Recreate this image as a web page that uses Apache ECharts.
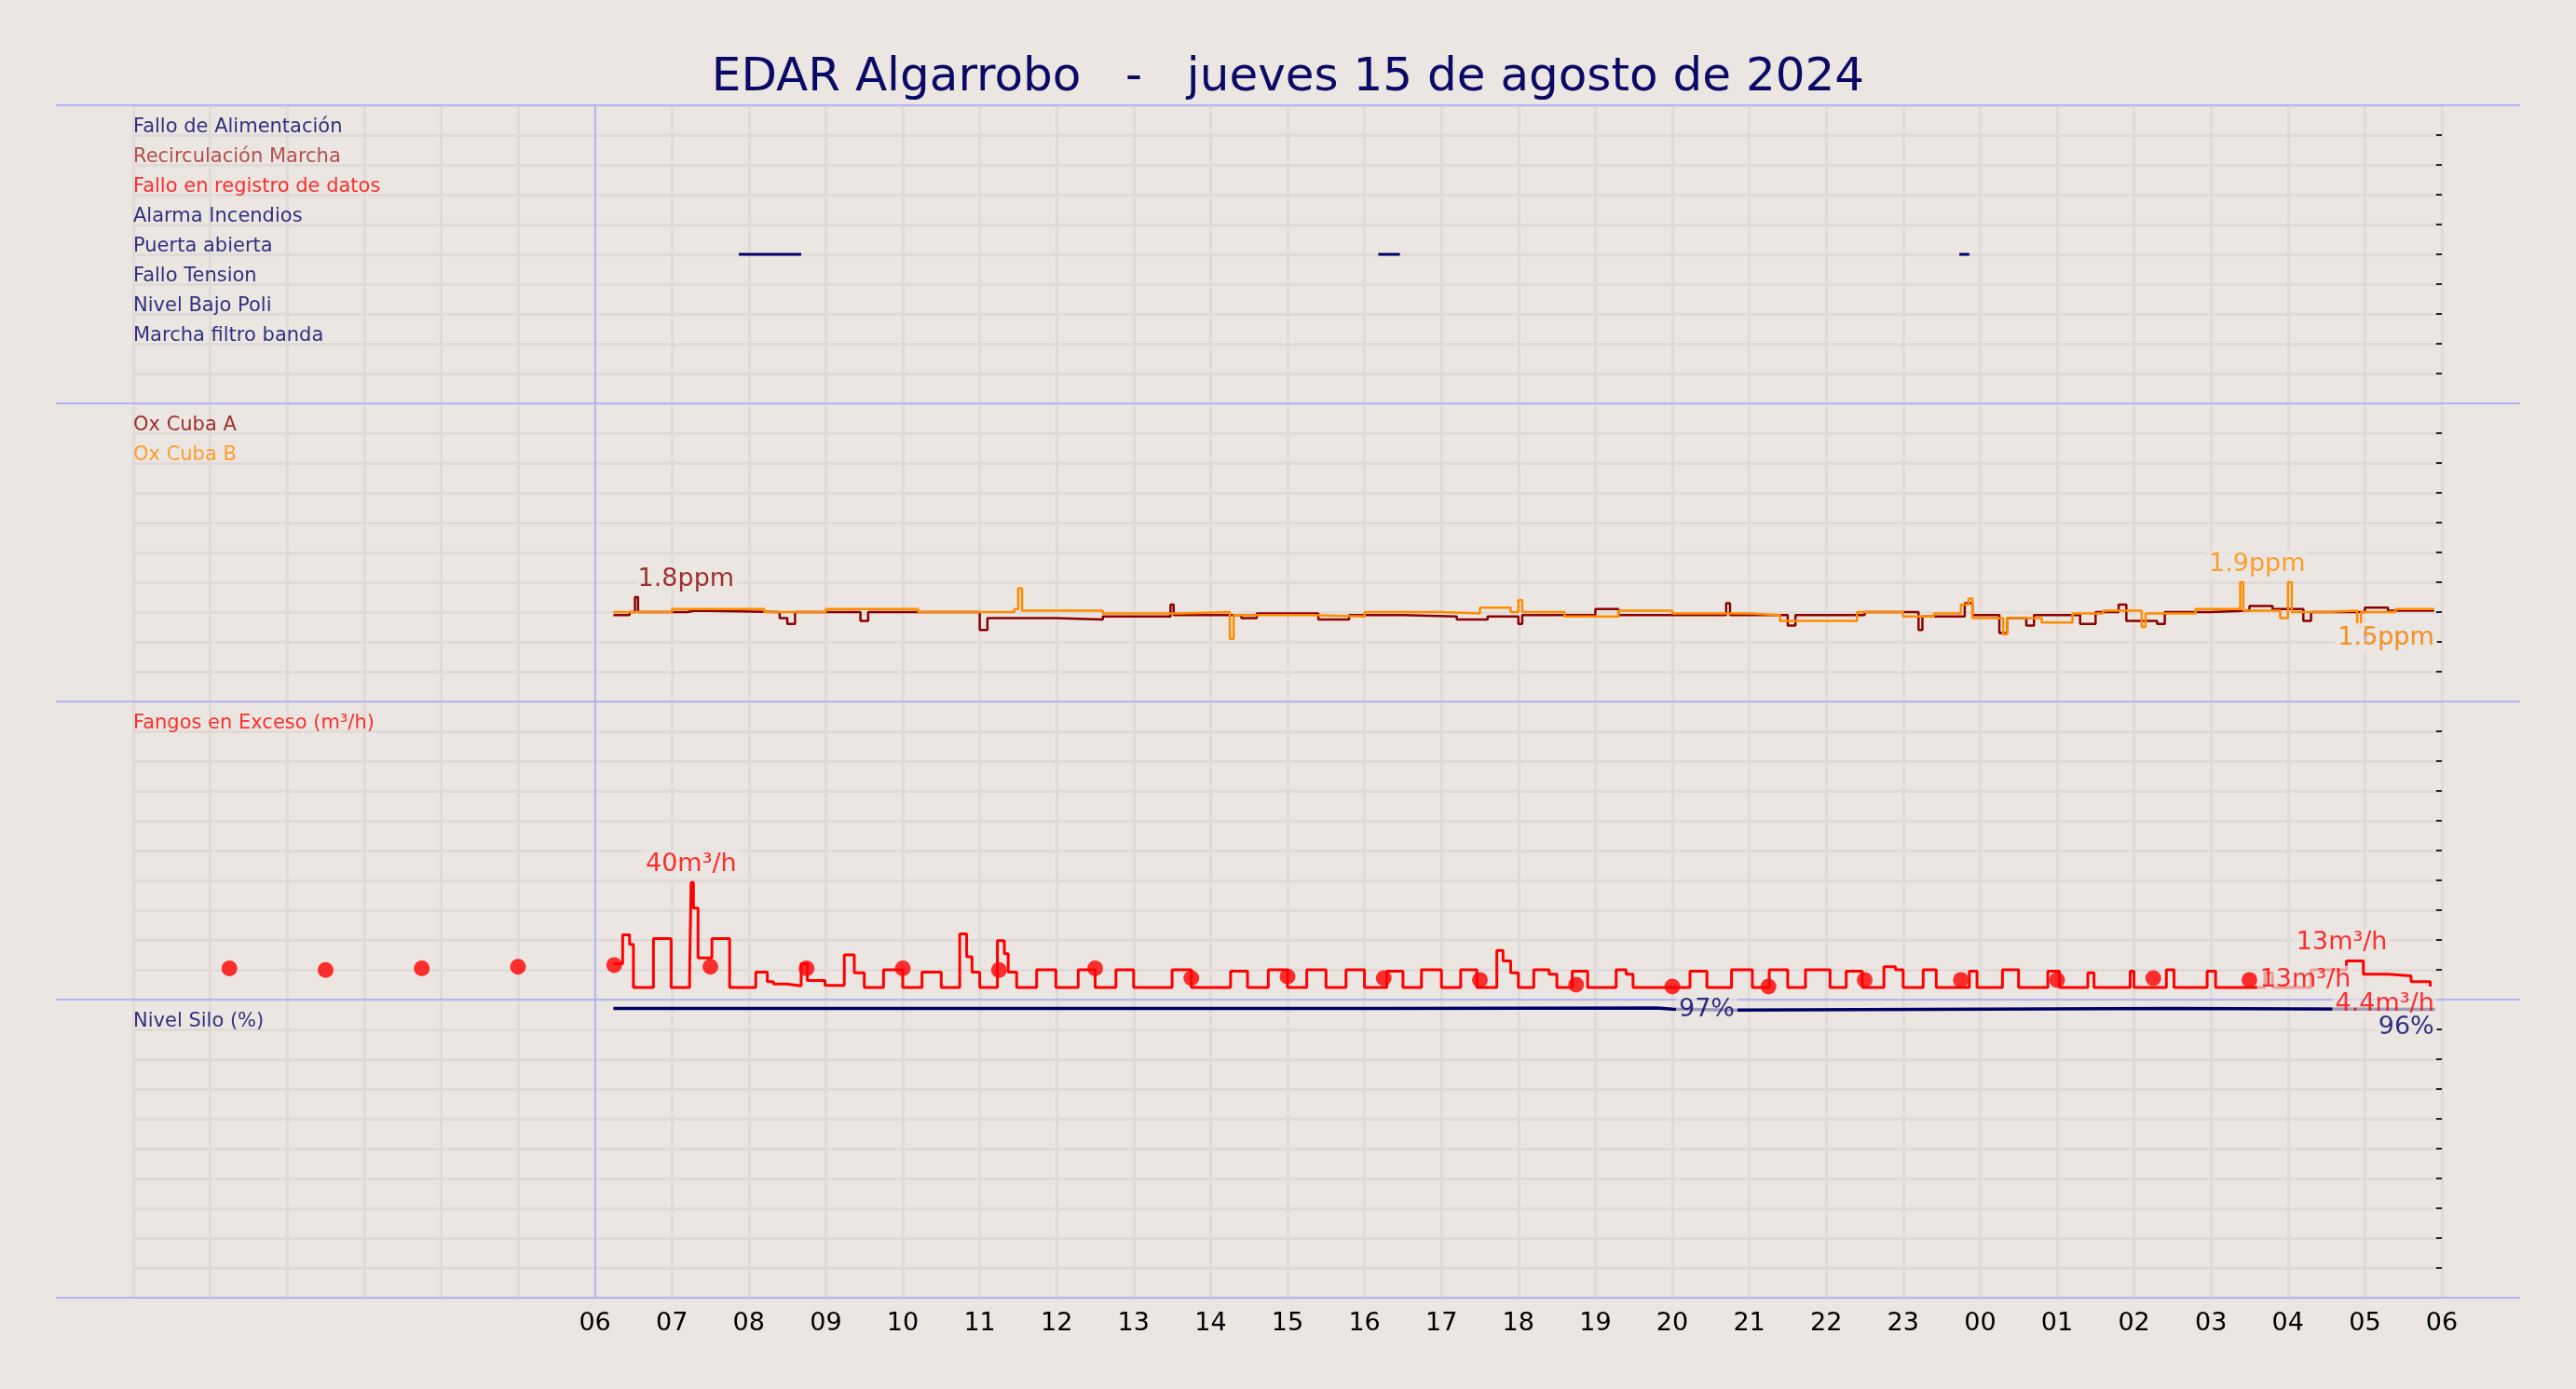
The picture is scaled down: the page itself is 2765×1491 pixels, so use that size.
<!DOCTYPE html>
<html><head><meta charset="utf-8">
<script src="https://cdn.jsdelivr.net/npm/echarts@6/dist/echarts.min.js"></script>
<style>html,body{margin:0;padding:0;background:#ebe6e1}#c{width:2765px;height:1491px}</style>
</head><body><div id="c"></div>
<script>
const titleText = 'EDAR Algarrobo   -   jueves 15 de agosto de 2024';
const alarmNames = ['Fallo de Alimentación','Recirculación Marcha','Fallo en registro de datos','Alarma Incendios','Puerta abierta','Fallo Tension','Nivel Bajo Poli','Marcha filtro banda'];
const alarmRows = [9,8,7,6,5,4,3,2];
const alarmColors = ['#000066','#a52a2a','#ff0000','#000066','#000066','#000066','#000066','#000066'];
const puertaAbierta = [[7.87,5],[8.68,5],[8.7,null],[16.18,5],[16.46,5],[16.5,null],[23.73,5],[23.86,5]];

const oxA = [[6.24,1.68],[6.45,1.70],[6.52,1.80],[6.56,1.70],[7.2,1.71],[7.3,1.70],[8.4,1.66],[8.5,1.62],[8.6,1.70],[9.45,1.64],[9.55,1.70],[10.95,1.70],[11.0,1.58],[11.1,1.66],[12.0,1.65],[12.6,1.67],[13.48,1.75],[13.52,1.68],[14.4,1.66],[14.6,1.69],[15.4,1.65],[15.8,1.68],[16.5,1.67],[17.2,1.65],[17.6,1.67],[18.0,1.62],[18.05,1.68],[19.0,1.72],[19.3,1.68],[20.7,1.76],[20.75,1.68],[21.5,1.61],[21.6,1.68],[22.5,1.70],[23.2,1.58],[23.25,1.67],[23.8,1.76],[23.9,1.68],[24.25,1.56],[24.35,1.66],[24.6,1.61],[24.7,1.68],[25.3,1.62],[25.5,1.70],[25.8,1.75],[25.9,1.64],[26.3,1.62],[26.4,1.70],[27.0,1.71],[27.5,1.74],[27.8,1.72],[28.2,1.64],[28.3,1.70],[29.0,1.73],[29.3,1.71],[29.9,1.71]];
const oxB = [[6.24,1.70],[7.0,1.72],[8.2,1.70],[9.0,1.72],[10.2,1.70],[11.45,1.72],[11.5,1.86],[11.55,1.71],[12.6,1.69],[13.6,1.70],[14.25,1.52],[14.3,1.68],[15.3,1.67],[16.0,1.70],[17.0,1.69],[17.5,1.73],[17.9,1.70],[18.0,1.78],[18.05,1.70],[18.6,1.67],[19.3,1.71],[20.0,1.69],[21.0,1.68],[21.4,1.64],[22.4,1.70],[23.0,1.67],[23.4,1.69],[23.75,1.75],[23.85,1.79],[23.9,1.66],[24.3,1.55],[24.35,1.66],[24.8,1.63],[25.2,1.69],[25.6,1.71],[26.1,1.60],[26.15,1.69],[26.8,1.72],[27.38,1.90],[27.42,1.71],[27.9,1.66],[28.0,1.90],[28.05,1.70],[28.5,1.71],[28.9,1.60],[28.95,1.70],[29.4,1.72],[29.9,1.72]];

const fangos = [[6.24,12],[6.36,21.7],[6.45,18.5],[6.50,4.1],[6.76,20.5],[6.99,4.1],[7.23,9],[7.25,39.3],[7.28,30.7],[7.34,14],[7.52,20.5],[7.75,4.1],[8.09,9.2],[8.24,6],[8.32,5.2],[8.49,4.6],[8.68,12],[8.76,6.4],[8.99,4.8],[9.24,15],[9.37,9],[9.50,4.1],[9.75,10],[10.0,4.1],[10.25,9.2],[10.5,4.1],[10.74,22],[10.83,14.4],[10.9,9.2],[11.0,4.1],[11.23,19.8],[11.32,15.4],[11.37,9.2],[11.48,4.1],[11.74,10],[11.99,4.1],[12.28,10],[12.5,4.1],[12.77,10],[13.0,4.1],[13.5,10],[13.75,4.1],[14.26,9.5],[14.48,4.1],[14.75,10],[15.0,4.1],[15.25,10],[15.5,4.1],[15.76,10],[16.0,4.1],[16.29,9.5],[16.5,4.1],[16.74,10],[17.0,4.1],[17.25,10],[17.46,4.1],[17.72,16.5],[17.8,13],[17.9,9],[18.0,4.1],[18.2,10],[18.4,8.5],[18.5,4.1],[18.7,9.5],[18.9,4.1],[19.27,10],[19.4,8.5],[19.49,4.1],[20.23,9.5],[20.45,4.1],[20.77,10],[21.04,4.1],[21.26,10],[21.5,4.1],[21.73,10],[22.05,4.1],[22.26,9.5],[22.47,4.1],[22.75,11],[22.9,10],[23.0,4.1],[23.26,10],[23.43,4.1],[23.86,9.5],[23.96,4.1],[24.29,10],[24.5,4.1],[24.88,9.5],[25.03,4.1],[25.4,9],[25.48,4.1],[25.95,9.5],[26.0,4.1],[26.42,10],[26.52,4.1],[26.95,9.5],[27.06,4.1],[27.7,9],[27.8,4.1],[28.3,10],[28.76,13],[28.98,8.5],[29.3,8],[29.6,6],[29.85,4.4]];
const fangosDots = [[1.25,10.5],[2.5,9.9],[3.75,10.5],[5.0,11],[6.25,11.6],[7.5,11],[8.75,10.5],[10.0,10.5],[11.25,9.9],[12.5,10.5],[13.75,7.2],[15.0,7.7],[16.25,7.2],[17.5,6.6],[18.75,5],[20.0,4.4],[21.25,4.4],[22.5,6.6],[23.75,6.6],[25.0,6.6],[26.25,7.2],[27.5,6.6]];

const silo = [[6.24,97],[11.5,97],[16.3,97.2],[19.8,96.8],[20.0,96.5],[20.8,97],[26.5,96.7],[29.9,96.4]];

const panelLabels = [
  [['Ox Cuba A',2.9,'#8b0000'],['Ox Cuba B',2.7,'#ff8c00']],
  [['Fangos en Exceso (m³/h)',90,'#ff0000']],
  [['Nivel Silo (%)',90,'#000066']]
];
const oxNotes = [[6.52,1.80,'1.8ppm','#8b0000','tr'],[27.6,1.90,'1.9ppm','#ff8c00','top'],[29.9,1.64,'1.6ppm','#8b0000','bl'],[29.9,1.64,'1.5ppm','#ff8c00','bl']];
const fangoNotes = [[7.25,39.3,'40m³/h','top'],[28.7,13,'13m³/h','top'],[27.55,6.6,'13m³/h','right'],[29.9,4.1,'4.4m³/h','bl']];
const siloNotes = [[20.0,96.5,'97%','right'],[29.9,96.4,'96%','bl']];

const F = 'DejaVu Sans';
const tops = [113,433,753,1073];
const H = 320;
const gridC = '#e0dbd8';
const blue = '#b4b4f4';

const grids = tops.map(t => ({left:143, right:144, top:t, height:H}));
const xAxes = tops.map((t,i)=>({
  type:'value', gridIndex:i, min:0, max:30, interval:1,
  axisLine:{show:false}, axisTick:{show:false},
  splitLine:{show:true, lineStyle:{color:gridC, width:3}},
  axisLabel:{show:i===3, fontFamily:F, fontSize:27, color:'#000', margin:14,
    formatter:v=> v<6 ? '' : String(v%24).padStart(2,'0')}
}));
const yr = [[0,10,1],[1.1,3.1,0.2],[0,100,10],[0,100,10]];
const yAxes = yr.map((r,i)=>({
  type:'value', gridIndex:i, min:r[0], max:r[1], interval:r[2], position:'right',
  axisLine:{show:true, onZero:false, lineStyle:{color:gridC, width:3}},
  axisTick:{show:true, inside:true, length:6, lineStyle:{color:'#222', width:2}},
  axisLabel:{show:false},
  splitLine:{show:true, lineStyle:{color:gridC, width:3}}
}));

function noteSeries(gi, items){
  return {type:'scatter', xAxisIndex:gi, yAxisIndex:gi, symbolSize:0, silent:true, z:10,
    data: items.map(it=>({value:[it.x,it.y], label:it.label}))};
}
function lbl(text,color,pos){
  const base = {show:true, formatter:text, color, fontFamily:F, fontSize:27,
    backgroundColor:'rgba(235,230,225,0.85)', padding:[2,3]};
  if(pos==='top') return Object.assign(base,{position:'top',distance:4});
  if(pos==='tr') return Object.assign(base,{position:'top',align:'left',distance:4,offset:[0,0]});
  if(pos==='right') return Object.assign(base,{position:'right',distance:4});
  return Object.assign(base,{position:'left', align:'right', offset:[8,18]});
}
const series = [];
series.push(noteSeries(0, alarmNames.map((n,i)=>({x:0,y:alarmRows[i],
  label:{show:true,formatter:n,position:'right',distance:0,offset:[0,-8],color:alarmColors[i],fontFamily:F,fontSize:21}}))));
panelLabels.forEach((arr,k)=>series.push(noteSeries(k+1, arr.map(a=>({x:0,y:a[1],
  label:{show:true,formatter:a[0],position:'right',distance:0,offset:[0,-8],color:a[2],fontFamily:F,fontSize:21}})))));
const vline = {silent:true, symbol:'none', label:{show:false}, lineStyle:{color:blue,width:2,type:'solid'}, data:[{xAxis:6}]};
series.push({type:'line', name:'Puerta abierta', xAxisIndex:0, yAxisIndex:0, data:puertaAbierta, showSymbol:false,
  lineStyle:{color:'#000066',width:3}, connectNulls:false, markLine:vline});
series.push({type:'line', name:'Ox Cuba A', xAxisIndex:1, yAxisIndex:1, data:oxA, step:'end', showSymbol:false,
  lineStyle:{color:'#8b0000',width:2.5}, markLine:vline});
series.push({type:'line', name:'Ox Cuba B', xAxisIndex:1, yAxisIndex:1, data:oxB, step:'end', showSymbol:false,
  lineStyle:{color:'#ff8c00',width:2.5}});
series.push({type:'line', name:'Fangos', xAxisIndex:2, yAxisIndex:2, data:fangos, step:'end', showSymbol:false,
  lineStyle:{color:'#ff0000',width:3}, markLine:vline});
series.push({type:'scatter', xAxisIndex:2, yAxisIndex:2, data:fangosDots, symbolSize:17, itemStyle:{color:'#ff0000'}});
series.push({type:'line', name:'Silo', xAxisIndex:3, yAxisIndex:3, data:silo, step:'end', showSymbol:false,
  lineStyle:{color:'#000066',width:3.5}, markLine:vline});
series.push(noteSeries(1, oxNotes.map(n=>({x:n[0],y:n[1],label:lbl(n[2],n[3],n[4])}))));
series.push(noteSeries(2, fangoNotes.map(n=>({x:n[0],y:n[1],label:lbl(n[2],'#ff0000',n[3])}))));
series.push(noteSeries(3, siloNotes.map(n=>({x:n[0],y:n[1],label:lbl(n[2],'#000066',n[3])}))));

const hl = tops.concat([tops[3]+H]).map(y=>({type:'line', shape:{x1:60,y1:y,x2:2705,y2:y}, style:{stroke:blue,lineWidth:2}, z:5}));

const chart = echarts.init(document.getElementById('c'));
chart.setOption({
  backgroundColor:'#ebe6e1', animation:false,
  title:{text:titleText, left:'center', top:54, textStyle:{fontFamily:F, fontSize:50, fontWeight:'normal', color:'#0a0a66'}},
  grid:grids, xAxis:xAxes, yAxis:yAxes, series, graphic:hl
});
</script></body></html>
